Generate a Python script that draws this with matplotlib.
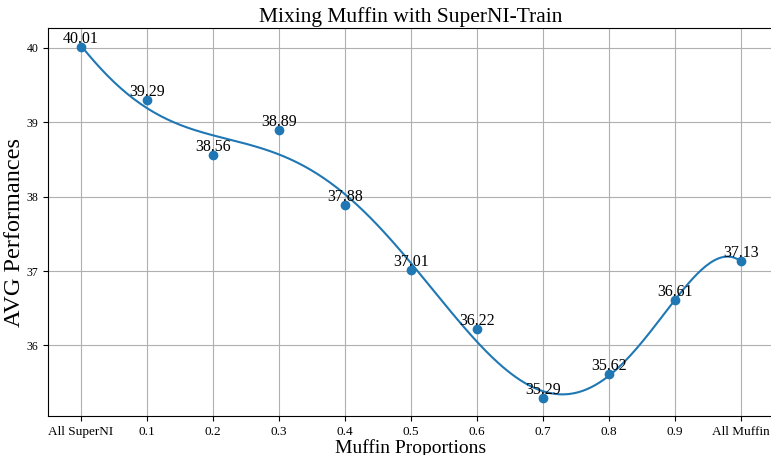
import numpy as np
import matplotlib.pyplot as plt

labels = ['All SuperNI', '0.1', '0.2', '0.3', '0.4', '0.5', '0.6', '0.7', '0.8', '0.9', 'All Muffin']
scores = [40.01, 39.29, 38.56, 38.89, 37.88, 37.01, 36.22, 35.29, 35.62, 36.61, 37.13]

plt.rcParams['font.family'] = ['Liberation Serif', 'DejaVu Serif']

fig = plt.figure(figsize=(7.71, 4.55), dpi=100)
ax = fig.add_axes([48 / 771, 1 - 416 / 455, 726 / 771, 388 / 455])

x = np.arange(len(scores))
ax.scatter(x, scores, color='#1f77b4', zorder=3)

# smooth trend through the points
xs = np.linspace(0, len(scores) - 1, 300)
coef = np.polyfit(x, scores, 6)
ax.plot(xs, np.polyval(coef, xs), color='#1f77b4')

for xi, yi in zip(x, scores):
    ax.text(xi, yi, f'{yi:.2f}', ha='center', va='bottom', fontsize=11.5)

ax.set_xticks(x)
ax.set_xticklabels(labels, fontsize=9.5)
ax.tick_params(axis='y', labelsize=8.5)
ax.grid(True)
ax.set_title('Mixing Muffin with SuperNI-Train', fontsize=15.5, pad=4.5)
ax.set_xlabel('Muffin Proportions', fontsize=14, labelpad=1)
ax.set_ylabel('AVG Performances', fontsize=17.5)
ax.yaxis.set_label_coords(-0.031, 0.474)

fig.savefig('out.png', dpi=100)
